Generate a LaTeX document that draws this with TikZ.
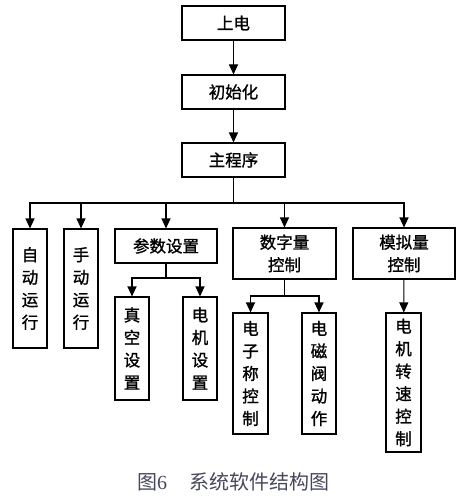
\documentclass[tikz,border=0pt]{standalone}
\usepackage{fontspec}
\newfontfamily\cjk[FakeBold=1.2]{Noto Sans CJK SC}
\newfontfamily\cjkcap{Noto Sans CJK SC}
\newfontfamily\capserif{Liberation Serif}
\usetikzlibrary{arrows.meta}
\definecolor{capcol}{RGB}{70,70,95}
\tikzset{
  box/.style={draw=black, line width=1.1pt, inner sep=0pt, align=center,
    font=\cjk\fontsize{16.5}{22.5}\selectfont},
  conn/.style={line width=1.1pt, -{Triangle[width=9pt,length=10pt]}},
  plain/.style={line width=1.1pt}
}
\begin{document}
\begin{tikzpicture}[x=1pt,y=-1pt]
\useasboundingbox (0,0) rectangle (468,500);
% top chain
\node[box, minimum width=103pt, minimum height=34pt] (pw) at (233.5,23) {上电};
\node[box, minimum width=103pt, minimum height=34pt] (init) at (233.5,92) {初始化};
\node[box, minimum width=103pt, minimum height=34pt] (main) at (233.5,160) {主程序};
% second level
\node[box, minimum width=34pt, minimum height=119pt] (auto) at (30,288.5) {自\\动\\运\\行};
\node[box, minimum width=34pt, minimum height=119pt] (manual) at (81,288.5) {手\\动\\运\\行};
\node[box, minimum width=102pt, minimum height=34pt] (param) at (166,246) {参数设置};
\node[box, minimum width=103pt, minimum height=51pt] (digital) at (284.5,253.5) {数字量\\控制};
\node[box, minimum width=102pt, minimum height=51pt] (analog) at (404,253.5) {模拟量\\控制};
% third level
\node[box, minimum width=34pt, minimum height=103pt] (vac) at (132,348.5) {真\\空\\设\\置};
\node[box, minimum width=34pt, minimum height=103pt] (motset) at (200,348.5) {电\\机\\设\\置};
\node[box, minimum width=35pt, minimum height=121pt] (scale) at (250.5,373.5) {电\\子\\称\\控\\制};
\node[box, minimum width=34pt, minimum height=121pt] (valve) at (319,373.5) {电\\磁\\阀\\动\\作};
\node[box, minimum width=35pt, minimum height=139pt] (speed) at (403.5,382.5) {电\\机\\转\\速\\控\\制};
% coordinates
\coordinate (bus) at (233.5,203);
\coordinate (pbus) at (166,278);
\coordinate (dbus) at (284.5,296);
% connectors
\draw[conn] (pw) -- (init);
\draw[conn] (init) -- (main);
\draw[plain] (main.south) -- (bus);
\draw[conn] (bus) -| (auto.north);
\draw[conn] (bus) -| (manual.north);
\draw[conn] (bus) -| (param.north);
\draw[conn] (bus) -| (digital.north);
\draw[conn] (bus) -| (analog.north);
\draw[plain] (param.south) -- (pbus);
\draw[conn] (pbus) -| (vac.north);
\draw[conn] (pbus) -| (motset.north);
\draw[plain] (digital.south) -- (dbus);
\draw[conn] (dbus) -| (scale.north);
\draw[conn] (dbus) -| (valve.north);
\draw[conn] (analog) -- (speed);
% caption
\node[text=capcol, font=\cjkcap\fontsize{20}{22}\selectfont, anchor=base] (cap) at (233,489)
  {图{\capserif 6}\hspace{22pt}系统软件结构图};
\end{tikzpicture}
\end{document}
